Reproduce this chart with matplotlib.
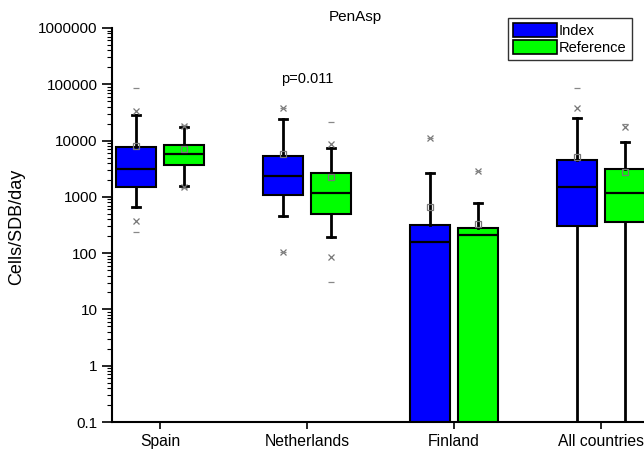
import matplotlib
matplotlib.use("Agg")
import matplotlib.pyplot as plt
from matplotlib.patches import Patch

plt.rcParams['font.family'] = ['Liberation Sans', 'DejaVu Sans']

categories = ["Spain", "Netherlands", "Finland", "All countries"]
groups = ["Index", "Reference"]
colors = ["#0000FF", "#00FF00"]

# Box statistics per category: [Index, Reference]
q1 = [[1490, 3670], [1076, 495], [0, 0], [303, 357]]
med = [[3120, 5750], [2340, 1167], [157, 210], [1493, 1167]]
q3 = [[7670, 8320], [5310, 2650], [316, 279], [4510, 3120]]
whislo = [[659, 1556], [456, 193], [0, 0], [0, 0]]
whishi = [[28400, 17400], [24100, 7360], [2650, 776], [25100, 9400]]
means = [[7900, 7060], [5750, 2250], [659, 329], [5090, 2756]]
pct_marks = [[[33400, 372], [18500, 1490]],
             [[37800, 105], [8670, 85]],
             [[11070], [2870]],
             [[37800], [17400]]]
minmax_marks = [[[85500, 237], [19000, 1450]],
                [[37800, 105], [21300, 30.7]],
                [[11070], [2870]],
                [[85500], [19600]]]
p_label = "p=0.011"
p_label_y = 125000

fig = plt.figure(figsize=(6.44, 4.51), dpi=100)
ax = fig.add_axes([112/644, 29/451, 532/644, 394/451])
ax.set_yscale('log', nonpositive='clip')

offset = 0.163
width = 0.272
for i, cat in enumerate(categories):
    for j in range(2):
        pos = i + 1 + (-offset if j == 0 else offset)
        st = dict(med=med[i][j], q1=max(q1[i][j], 1e-3), q3=q3[i][j],
                  whislo=max(whislo[i][j], 1e-3), whishi=whishi[i][j], fliers=[])
        ax.bxp([st], positions=[pos], widths=width, patch_artist=True,
               showfliers=False, capwidths=0.055,
               boxprops=dict(facecolor=colors[j], edgecolor='black', linewidth=1.5),
               medianprops=dict(color='black', linewidth=1.6),
               whiskerprops=dict(color='black', linewidth=2),
               capprops=dict(color='black', linewidth=2))
        ax.plot([pos]*len(pct_marks[i][j]), pct_marks[i][j], 'x', color='#777777',
                markersize=5, markeredgewidth=0.9, zorder=5)
        ax.plot([pos]*len(minmax_marks[i][j]), minmax_marks[i][j], '_', color='#888888',
                markersize=5, markeredgewidth=0.9, zorder=5)
        ax.plot([pos], [means[i][j]], 's', markerfacecolor='none', markeredgecolor='#777777',
                markersize=4, markeredgewidth=0.9, zorder=5)

ax.text(2, p_label_y, p_label, ha='center', va='center', fontsize=10.5)

ax.set_xlim(1 - 48/147, 1 + 532/147 - 48/147)
ax.set_ylim(0.1, 1e6)
ax.set_xticks(range(1, 5))
ax.set_xticklabels(categories, fontsize=11.3)
yt = [0.1, 1, 10, 100, 1000, 10000, 100000, 1000000]
ax.set_yticks(yt)
ax.set_yticklabels(["0.1", "1", "10", "100", "1000", "10000", "100000", "1000000"], fontsize=11)
ax.tick_params(axis='y', which='major', length=7, width=1.2, direction='out')
ax.tick_params(axis='y', which='minor', length=3.5, width=0.8, direction='out')
ax.tick_params(axis='x', which='major', length=5, width=1.2, direction='out')
for s in ['top', 'right']:
    ax.spines[s].set_visible(False)
for s in ['left', 'bottom']:
    ax.spines[s].set_linewidth(1.5)
ax.set_ylabel("Cells/SDB/day", fontsize=13)
ax.yaxis.set_label_coords(-(112 - 25) / 532, (422 - 227) / 394)

fig.text(355/644, 1 - 17/451, "PenAsp", ha='center', va='center', fontsize=11)

handles = [Patch(facecolor=colors[k], edgecolor='black', linewidth=1.2) for k in range(2)]
leg = ax.legend(handles, groups, loc='upper left', bbox_to_anchor=(508/644, 1 - 18/451),
                bbox_transform=fig.transFigure, fontsize=10.5, frameon=True, fancybox=False,
                edgecolor='black', handlelength=3.0, handleheight=1.1, handletextpad=0.15,
                labelspacing=0.15, borderpad=0.35, borderaxespad=0)
leg.get_frame().set_linewidth(1.0)

fig.savefig("out.png", dpi=100)
